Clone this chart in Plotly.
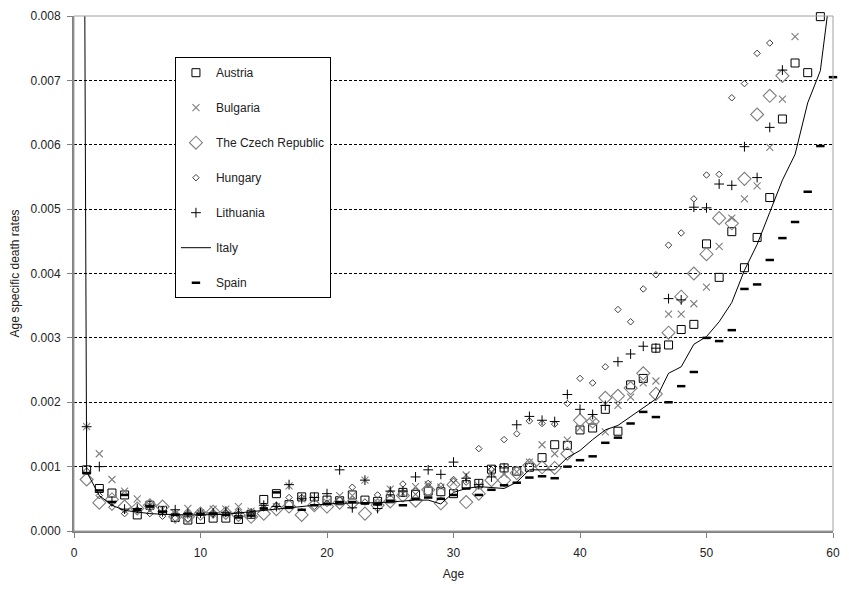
import plotly.graph_objects as go

ages = list(range(1, 60))

austria = [0.95, 0.66, 0.59, 0.56, 0.25, 0.40, 0.32, 0.21, 0.17, 0.18,
           0.20, 0.20, 0.18, 0.26, 0.49, 0.58, 0.41, 0.53, 0.53, 0.48,
           0.47, 0.56, 0.48, 0.46, 0.50, 0.60, 0.57, 0.62, 0.61, 0.58,
           0.72, 0.74, 0.96, 0.98, 0.93, 0.99, 1.14, 1.34, 1.33, 1.57,
           1.60, 1.89, 1.55, 2.27, 2.37, 2.84, 2.89, 3.13, 3.21, 4.46,
           3.94, 4.65, 4.09, 4.56, 5.18, 6.40, 7.27, 7.12, 7.99]

bulgaria = [1.62, 1.20, 0.80, 0.62, 0.50, 0.40, 0.34, 0.27, 0.35, 0.28,
            0.34, 0.34, 0.38, 0.31, 0.37, 0.38, 0.70, 0.50, 0.50, 0.45,
            0.55, 0.55, 0.79, 0.44, 0.65, 0.58, 0.69, 0.72, 0.68, 0.75,
            0.87, 0.70, 0.92, 0.88, 0.92, 1.07, 1.34, 1.20, 1.41, 1.60,
            1.70, 1.54, 1.95, 2.08, 2.30, 2.33, 3.37, 3.37, 3.53, 3.79,
            4.42, 4.86, 5.16, 5.36, 5.96, 6.71, 7.68]

czech = [0.80, 0.44, 0.49, 0.38, 0.35, 0.40, 0.38, 0.22, 0.22, 0.27,
         0.30, 0.28, 0.25, 0.22, 0.27, 0.34, 0.38, 0.25, 0.40, 0.38,
         0.44, 0.44, 0.27, 0.40, 0.46, 0.55, 0.47, 0.64, 0.43, 0.72,
         0.45, 0.58, 0.79, 0.79, 0.90, 1.02, 0.99, 0.98, 1.20, 1.72,
         1.70, 2.07, 2.10, 2.22, 2.45, 2.13, 3.08, 3.64, 4.00, 4.30,
         4.86, 4.78, 5.47, 6.47, 6.76, 7.07]

hungary = [0.93, 0.55, 0.37, 0.27, 0.33, 0.27, 0.23, 0.20, 0.19, 0.29,
           0.27, 0.28, 0.27, 0.26, 0.36, 0.40, 0.52, 0.52, 0.38, 0.43,
           0.48, 0.68, 0.45, 0.56, 0.58, 0.73, 0.62, 0.74, 0.70, 0.80,
           0.76, 1.28, 0.95, 1.42, 1.51, 1.71, 1.67, 1.66, 1.98, 2.37,
           2.30, 2.55, 3.44, 3.25, 3.76, 3.98, 4.44, 4.63, 5.16, 5.53,
           5.54, 6.73, 6.95, 7.42, 7.58]

lithuania = [1.62, 1.00, 0.46, 0.34, 0.35, 0.40, 0.30, 0.33, 0.27, 0.28,
             0.28, 0.29, 0.28, 0.28, 0.40, 0.38, 0.72, 0.50, 0.52, 0.58,
             0.95, 0.36, 0.79, 0.35, 0.62, 0.62, 0.84, 0.95, 0.88, 1.07,
             0.82, 0.72, 0.84, 0.98, 1.65, 1.78, 1.72, 1.70, 2.12, 1.89,
             1.81, 1.95, 2.63, 2.75, 2.87, 2.84, 3.61, 3.59, 5.03, 5.02,
             5.39, 5.37, 5.97, 5.49, 6.27, 7.16]

italy_ages = list(range(0, 61))
italy = [50.0, 0.92, 0.55, 0.40, 0.32, 0.29, 0.27, 0.26, 0.25, 0.25, 0.25,
         0.25, 0.26, 0.28, 0.30, 0.33, 0.35, 0.37, 0.38, 0.40, 0.42,
         0.43, 0.43, 0.43, 0.44, 0.45, 0.47, 0.48, 0.48, 0.42, 0.60,
         0.66, 0.69, 0.67, 0.66, 0.76, 0.95, 0.95, 0.95, 1.14, 1.25,
         1.42, 1.57, 1.64, 1.78, 1.92, 2.05, 2.45, 2.55, 2.90, 3.02,
         3.25, 3.55, 4.05, 4.45, 4.95, 5.45, 5.85, 6.65, 7.15, 8.70]

spain_ages = list(range(1, 61))
spain = [0.90, 0.63, 0.45, 0.56, 0.33, 0.38, 0.30, 0.25, 0.27, 0.26,
         0.27, 0.25, 0.21, 0.24, 0.35, 0.60, 0.37, 0.33, 0.40, 0.42,
         0.45, 0.45, 0.43, 0.42, 0.47, 0.40, 0.50, 0.52, 0.50, 0.56,
         0.66, 0.56, 0.64, 0.71, 0.75, 0.83, 0.85, 0.82, 1.00, 1.10,
         1.16, 1.37, 1.45, 1.67, 1.85, 1.77, 2.00, 2.25, 2.47, 3.00,
         2.95, 3.12, 3.76, 3.83, 4.21, 4.55, 4.80, 5.27, 5.98, 7.05]

x_ticks = [0, 10, 20, 30, 40, 50, 60]
y_ticks = [0.000, 0.001, 0.002, 0.003, 0.004, 0.005, 0.006, 0.007, 0.008]


def scale(vals):
    return [v / 1000.0 for v in vals]


fig = go.Figure()

def add_markers(name, xs, ys, symbol, size, color, lw, group):
    fig.add_trace(go.Scatter(
        x=xs, y=scale(ys), mode="markers", name=name, legendgroup=group,
        marker=dict(symbol=symbol, size=size, color=color,
                    line=dict(color=color, width=lw)),
        cliponaxis=False,
    ))

add_markers("Austria", ages[:len(austria)], austria, "square-open", 8, "#000000", 1, "a")
add_markers("Bulgaria", ages[:len(bulgaria)], bulgaria, "x-thin-open", 7, "#7f7f7f", 1.1, "b")
add_markers("The Czech Republic", ages[:len(czech)], czech, "diamond-open", 10, "#7f7f7f", 1.1, "c")
add_markers("Hungary", ages[:len(hungary)], hungary, "diamond-open", 5, "#404040", 1, "d")
add_markers("Lithuania", ages[:len(lithuania)], lithuania, "cross-thin-open", 7, "#000000", 1, "e")

fig.add_trace(go.Scatter(
    x=italy_ages, y=scale(italy), mode="lines", name="Italy", legendgroup="f",
    line=dict(color="#000000", width=1),
))

add_markers("Spain", spain_ages, spain, "line-ew", 6, "#000000", 2.5, "g")

fig.update_layout(
    width=849, height=590,
    margin=dict(l=74, r=9, t=15, b=59),
    paper_bgcolor="white", plot_bgcolor="white",
    font=dict(family="Liberation Sans, Arial, sans-serif", size=12, color="#222222"),
    showlegend=True,
    legend=dict(
        x=0.133, y=0.92, xanchor="left", yanchor="top",
        bgcolor="white", bordercolor="#000000", borderwidth=1,
        tracegroupgap=16, font=dict(size=12, color="#222222"),
    ),
    xaxis=dict(
        range=[0, 60], tickvals=x_ticks, ticks="outside", ticklen=5,
        tickcolor="#808080", showline=True, linecolor="#808080", linewidth=2,
        showgrid=False, zeroline=False, ticklabelstandoff=5,
        title=dict(text="Age", font=dict(size=12), standoff=10),
    ),
    yaxis=dict(
        range=[0, 0.008], tickvals=y_ticks, tickformat=".3f", ticks="outside",
        ticklen=5, tickcolor="#808080", showline=True, linecolor="#808080",
        linewidth=2, showgrid=True, gridcolor="#000000", griddash="3px,2px",
        gridwidth=1, zeroline=False, ticklabelstandoff=4,
        title=dict(text="Age specific death rates", font=dict(size=12), standoff=8),
    ),
    shapes=[dict(type="rect", xref="paper", yref="paper", x0=0, x1=1, y0=0, y1=1,
                 line=dict(color="#a0a0a0", width=1), layer="above")],
)

fig.write_html("out.html", config={"displayModeBar": False},
               post_script="document.body.style.margin='0';")
